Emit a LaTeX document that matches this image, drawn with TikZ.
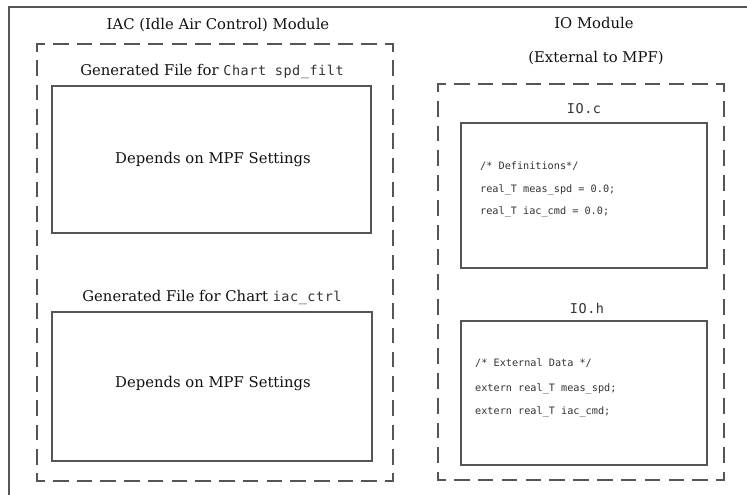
\documentclass[tikz,border=0pt]{standalone}
\usepackage{fontspec}
\setmainfont{DejaVu Serif}
\newfontfamily\codefont{DejaVu Sans Mono}
\newfontfamily\monotitlefont[LetterSpace=4]{DejaVu Sans Mono}
\definecolor{framegray}{HTML}{555555}
\definecolor{txt}{HTML}{111111}
\definecolor{codetxt}{HTML}{333333}
\tikzset{
  region/.style={minimum width=#1, inner sep=0pt, outer sep=0pt},
  filebox/.style={draw=framegray, line width=1.4pt, inner sep=0pt, outer sep=0pt},
  dside/.style={draw=framegray, line width=1.6pt, line cap=rect, dash pattern=on 14pt off #1, dash phase=7pt},
  title/.style={font=\fontsize{14.8}{17}\selectfont, text=txt, anchor=base, inner sep=0pt},
  monotitle/.style={font=\monotitlefont\fontsize{13.5}{15}\selectfont, text=codetxt, anchor=base, inner sep=0pt},
  codeline/.style={font=\codefont\fontsize{10.2}{12}\selectfont, text=codetxt, anchor=base west, inner sep=0pt},
}
\newcommand{\mt}[1]{{\monotitlefont\fontsize{13.5}{15}\selectfont\color{codetxt}#1}}
\begin{document}
\begin{tikzpicture}[x=1pt, y=-1pt]
\useasboundingbox (0,0) rectangle (747,495);
% outer frame (cropped)
\coordinate (fbl) at (9,496);
\coordinate (ftl) at (9,7);
\coordinate (ftr) at (748,7);
\draw[framegray, line width=2pt] (fbl) -- (ftl) -- (ftr);

% regions
\node[region=356pt, minimum height=437pt] (iac) at (215,262.5) {};
\node[region=286pt, minimum height=396pt] (io) at (581,282) {};
\draw[dside=9.733pt] (iac.north west) -- (iac.north east);
\draw[dside=9.733pt] (iac.south west) -- (iac.south east);
\draw[dside=10.28pt] (iac.north west) -- (iac.south west);
\draw[dside=10.28pt] (iac.north east) -- (iac.south east);
\draw[dside=9.83pt] (io.north west) -- (io.north east);
\draw[dside=9.83pt] (io.south west) -- (io.south east);
\draw[dside=10.75pt] (io.north west) -- (io.south west);
\draw[dside=10.75pt] (io.north east) -- (io.south east);

% file boxes
\node[filebox, minimum width=319pt, minimum height=147pt] (chA) at (211.5,159.5) {};
\node[filebox, minimum width=320pt, minimum height=149pt] (chB) at (212,386.5) {};
\node[filebox, minimum width=246pt, minimum height=145pt] (ioc) at (584,195.5) {};
\node[filebox, minimum width=246pt, minimum height=144pt] (ioh) at (584,393) {};

% titles
\node[title] (tiac) at (218,30) {IAC (Idle Air Control) Module};
\node[title] (tio) at (594,29) {IO Module};
\node[title] (tio2) at (596,63) {(External to MPF)};
\node[title] (tchA) at (212,76) {Generated File for \mt{Chart spd\_filt}};
\node[title] (tchB) at (212,301) {Generated File for Chart \mt{iac\_ctrl}};
\node[title] (dA) at (213,163) {Depends on MPF Settings};
\node[title] (dB) at (213,387) {Depends on MPF Settings};
\node[monotitle] (tioc) at (584,113) {IO.c};
\node[monotitle] (tioh) at (587,313) {IO.h};

% code
\node[codeline] (c1) at (480,169) {/* Definitions*/};
\node[codeline] (c2) at (480,192) {real\_T meas\_spd = 0.0;};
\node[codeline] (c3) at (480,214) {real\_T iac\_cmd = 0.0;};
\node[codeline] (h1) at (475,366) {/* External Data */};
\node[codeline] (h2) at (475,391) {extern real\_T meas\_spd;};
\node[codeline] (h3) at (475,414) {extern real\_T iac\_cmd;};
\end{tikzpicture}
\end{document}
